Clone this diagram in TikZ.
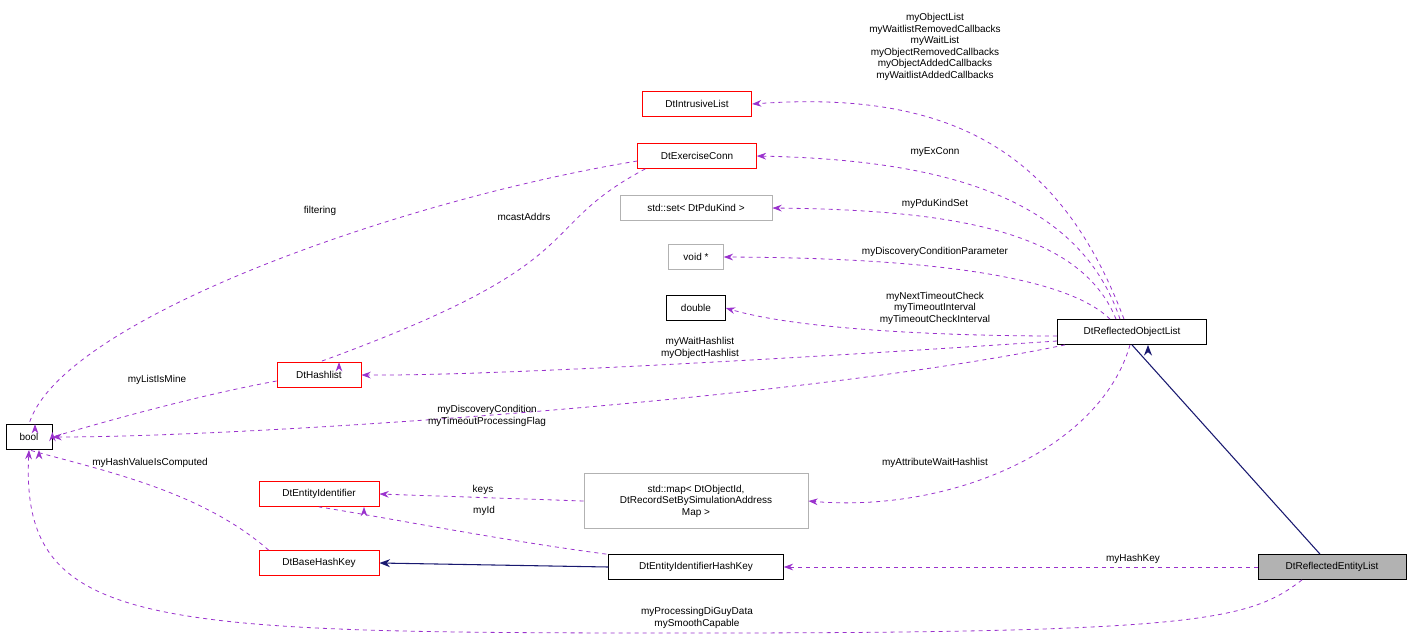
\documentclass[tikz,border=0pt]{standalone}
\usepackage{fontspec}
\setmainfont{Liberation Sans}
\usetikzlibrary{arrows.meta}
\definecolor{usep}{HTML}{9A32CD}
\definecolor{inh}{HTML}{191970}
\begin{document}
\begin{tikzpicture}[x=0.75pt,y=-0.75pt,font=\fontsize{7.5}{8.6}\selectfont,
 box/.style={draw,rectangle,minimum height=18.75pt,inner sep=2pt,line width=0.6pt},
 red/.style={box,draw=red},
 gr/.style={box,draw=black!30},
 use/.style={draw=usep,dashed,line width=0.6pt,-{Stealth[length=7pt,width=5pt]}},
 inhr/.style={draw=inh,line width=0.8pt,-{Stealth[length=8pt,width=6pt,open,fill=inh]}},
 lab/.style={align=center,inner sep=0pt}]
\useasboundingbox (0,0) rectangle (1411,640);
\node[box,minimum width=34.5pt] (bool) at (29,437) {bool};
\node[red,minimum width=82pt] (intr) at (697,104) {DtIntrusiveList};
\node[red,minimum width=89pt] (exc) at (697,156) {DtExerciseConn};
\node[gr,minimum width=114pt] (set) at (696,208) {std::set< DtPduKind >};
\node[gr,minimum width=41pt] (void) at (696,257) {void *};
\node[box,minimum width=44pt] (dbl) at (696,308) {double};
\node[red,minimum width=63pt] (hash) at (319,375) {DtHashlist};
\node[box,minimum width=112pt] (rol) at (1132,332) {DtReflectedObjectList};
\node[red,minimum width=90pt] (eid) at (319,494) {DtEntityIdentifier};
\node[gr,minimum width=168pt,minimum height=41pt,align=center] (map) at (696,501) {std::map< DtObjectId,\\DtRecordSetBySimulationAddress\\Map >};
\node[red,minimum width=90pt] (bhk) at (319,563) {DtBaseHashKey};
\node[box,minimum width=131pt] (eihk) at (696,567) {DtEntityIdentifierHashKey};
\node[box,fill=black!30,minimum width=111pt] (rel) at (1332,567) {DtReflectedEntityList};

\draw[use] (rol.north) ++(-8,0) .. controls (1060,150) and (950,90) .. (intr.east);
\draw[use] (rol.north) ++(-12,0) .. controls (1080,200) and (950,160) .. (exc.east);
\draw[use] (rol.north) ++(-16,0) .. controls (1080,230) and (950,210) .. (set.east);
\draw[use] (rol.north) ++(-22,0) .. controls (1070,280) and (950,258) .. (void.east);
\draw[use] (rol.west) ++(0,4) .. controls (950,336) and (800,330) .. (dbl.east);
\draw[use] (rol.west) ++(0,9) .. controls (850,355) and (500,376) .. (hash.east);
\draw[use] (rol.south west) ++(8,0) .. controls (800,400) and (250,437) .. (bool.east);
\draw[use] (rol.south) ++(-2,0) .. controls (1100,450) and (950,513) .. (map.east);
\draw[use] (exc.west) ++(0,5) .. controls (400,200) and (60,320) .. (bool.north) ++(6,0);
\draw[use] (exc.south west) ++(8,0) .. controls (530,230) and (600,260) .. (hash.north) ++(20,0);
\draw[use] (hash.west) ++(0,6) .. controls (200,395) and (110,420) .. (bool.east) ++(0,-5);
\draw[use] (bhk.north west) ++(10,0) .. controls (200,490) and (100,470) .. (bool.south) ++(10,0);
\draw[use] (map.west) -- (eid.east);
\draw[use] (eihk.north west) ++(-2,0) .. controls (500,540) and (400,520) .. (eid.south) ++(45,0);
\draw[inhr] (eihk.west) -- (bhk.east);
\draw[inhr] (rel.north) ++(-12,0) -- (rol.south) ++(16,0);
\draw[use] (rel.west) -- (eihk.east);
\draw[use] (rel.south) ++(-30,0) .. controls (1250,620) and (1200,633) .. (697,633) .. controls (150,633) and (20,630) .. (bool.south);

\node[lab] at (935,47) {myObjectList\\myWaitlistRemovedCallbacks\\myWaitList\\myObjectRemovedCallbacks\\myObjectAddedCallbacks\\myWaitlistAddedCallbacks};
\node[lab] at (935,152) {myExConn};
\node[lab] at (935,204) {myPduKindSet};
\node[lab] at (935,252) {myDiscoveryConditionParameter};
\node[lab] at (935,308) {myNextTimeoutCheck\\myTimeoutInterval\\myTimeoutCheckInterval};
\node[lab] at (700,348) {myWaitHashlist\\myObjectHashlist};
\node[lab] at (487,416) {myDiscoveryCondition\\myTimeoutProcessingFlag};
\node[lab] at (935,463) {myAttributeWaitHashlist};
\node[lab] at (320,211) {filtering};
\node[lab] at (524,217) {mcastAddrs};
\node[lab] at (157,380) {myListIsMine};
\node[lab] at (150,463) {myHashValueIsComputed};
\node[lab] at (483,490) {keys};
\node[lab] at (484,511) {myId};
\node[lab] at (1133,559) {myHashKey};
\node[lab] at (697,618) {myProcessingDiGuyData\\mySmoothCapable};
\end{tikzpicture}
\end{document}
